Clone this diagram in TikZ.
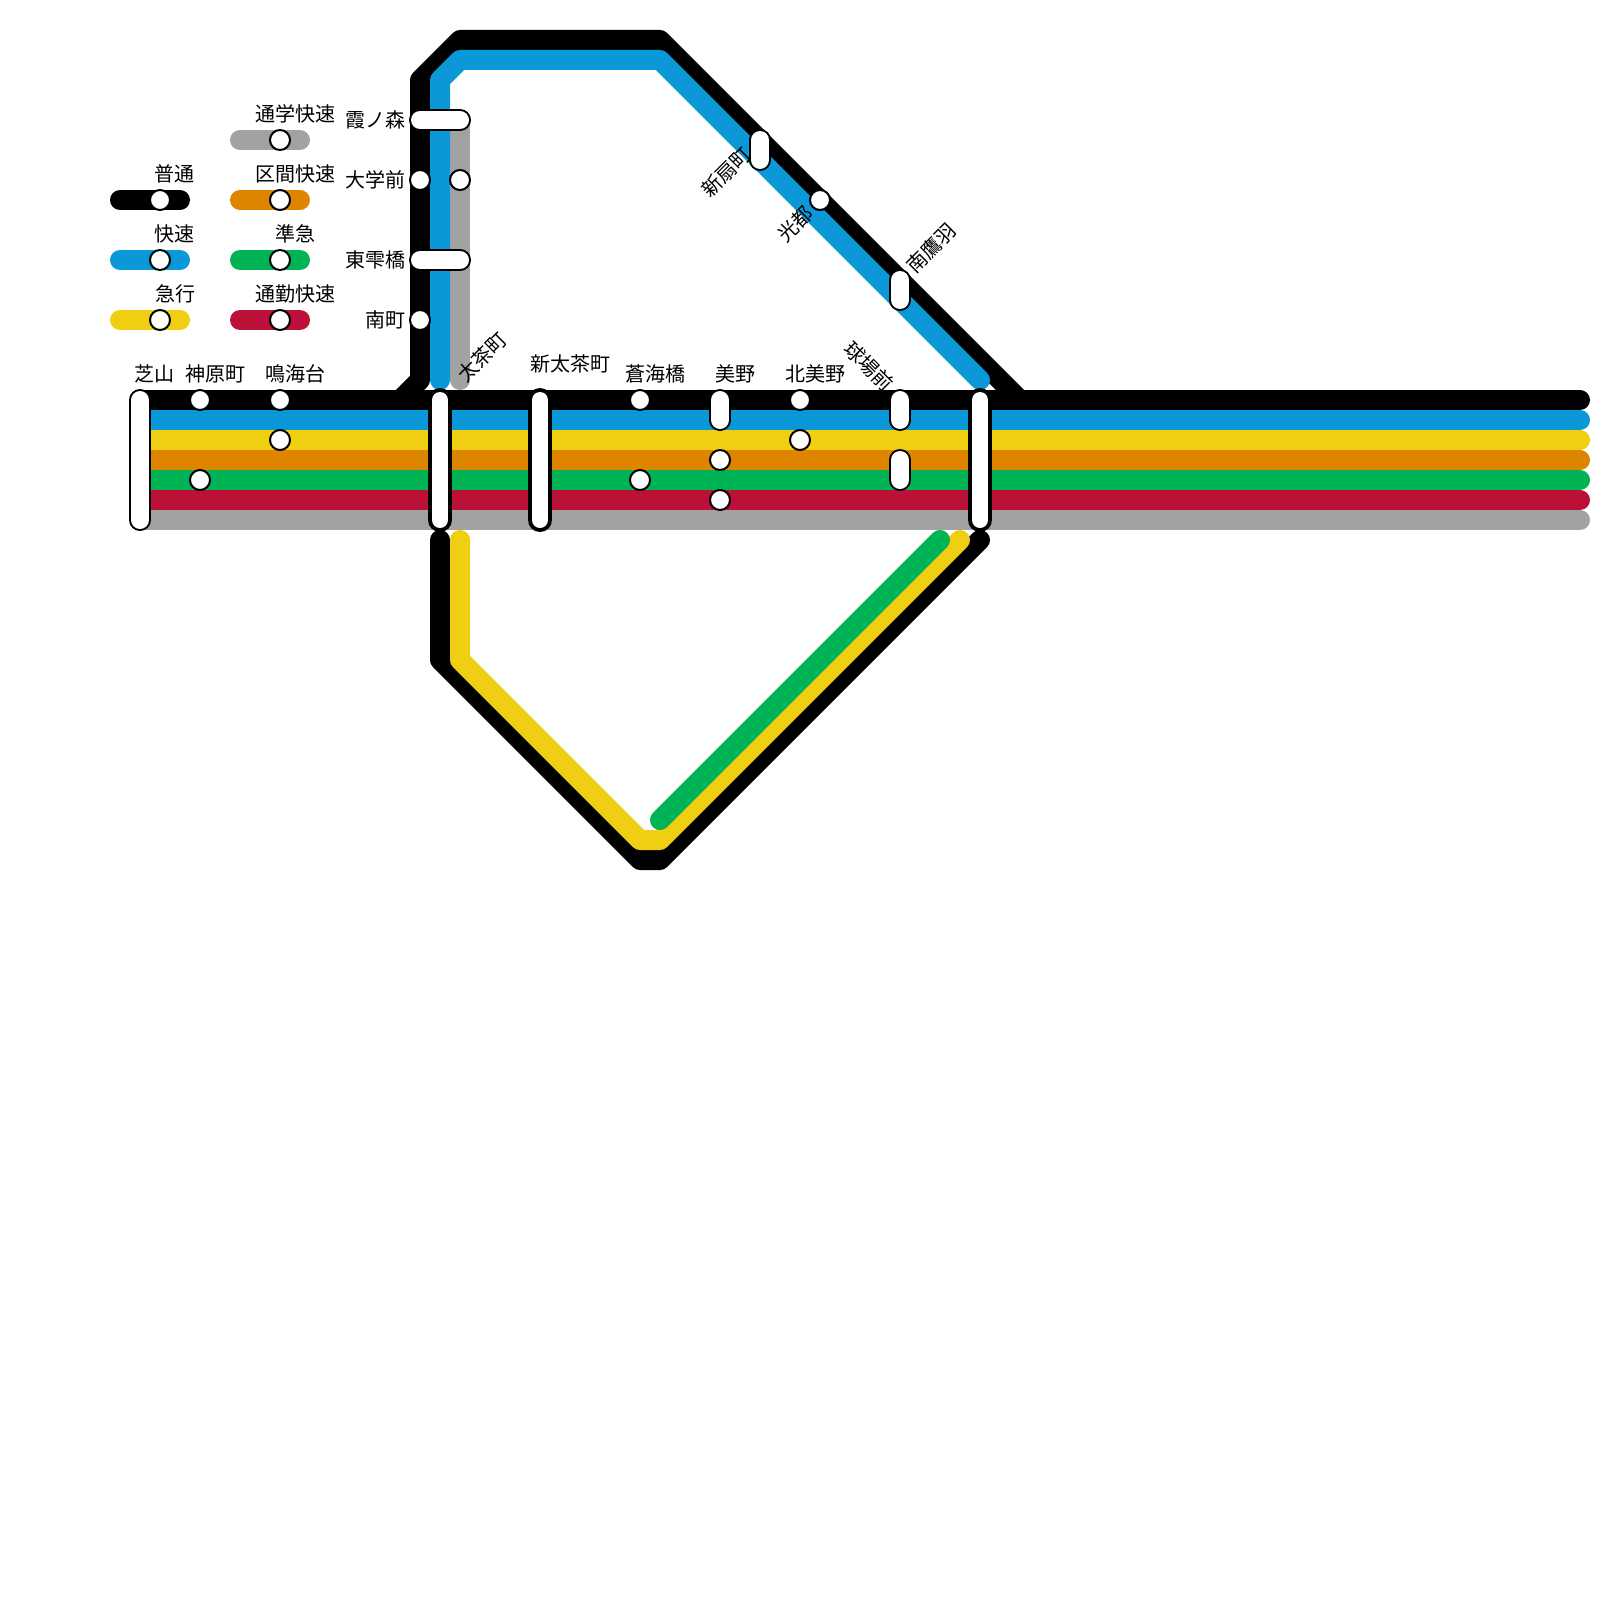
\documentclass[tikz,border=0pt]{standalone}
\usepackage{fontspec}
\setmainfont{Noto Sans CJK JP}
\definecolor{cblue}{HTML}{0A98D8}
\definecolor{cyellow}{HTML}{F0CF12}
\definecolor{corange}{HTML}{DE8500}
\definecolor{cgreen}{HTML}{00B355}
\definecolor{ccrimson}{HTML}{BB1038}
\definecolor{cgray}{HTML}{A2A2A2}
\tikzset{
  route/.style={line width=20pt,line cap=round,line join=round,draw=#1},
  pillout/.style={draw=black,line width=22pt,line cap=round},
  pillin/.style={draw=white,line width=18pt,line cap=round},
  bigout/.style={draw=black,line width=24pt,line cap=round},
  bigin/.style={draw=white,line width=16pt,line cap=round},
  stndot/.style={circle,draw=black,fill=white,line width=2pt,inner sep=0pt,minimum size=20pt},
  lbl/.style={font=\fontsize{20}{24}\selectfont,text=black,inner sep=0pt},
}
\newcommand{\pillstn}[4]{\draw[pillout] (#1,#2)--(#3,#4);\draw[pillin] (#1,#2)--(#3,#4);}
\newcommand{\bigstn}[4]{\draw[bigout] (#1,#2)--(#3,#4);\draw[bigin] (#1,#2)--(#3,#4);}
\begin{document}
\begin{tikzpicture}[x=1pt,y=-1pt]
\useasboundingbox[fill=white] (0,0) rectangle (1600,1600);
% branch lines
\draw[route=black] (400,400)--(420,380)--(420,80)--(460,40)--(660,40)--(1020,400);
\draw[route=cgray] (460,120)--(460,380);
\draw[route=cblue] (440,380)--(440,80)--(460,60)--(660,60)--(980,380);
\draw[route=black] (440,540)--(440,660)--(640,860)--(660,860)--(980,540);
\draw[route=cyellow] (460,540)--(460,660)--(640,840)--(660,840)--(960,540);
\draw[route=cgreen] (660,820)--(940,540);
% trunk
\draw[route=cgray] (140,520)--(1580,520);
\draw[route=ccrimson] (140,500)--(1580,500);
\draw[route=cgreen] (140,480)--(1580,480);
\draw[route=corange] (140,460)--(1580,460);
\draw[route=cyellow] (140,440)--(1580,440);
\draw[route=cblue] (140,420)--(1580,420);
\draw[route=black] (140,400)--(1580,400);
% legend
\draw[route=black] (120,200)--(180,200);
\draw[route=cblue] (120,260)--(180,260);
\draw[route=cyellow] (120,320)--(180,320);
\draw[route=cgray] (240,140)--(300,140);
\draw[route=corange] (240,200)--(300,200);
\draw[route=cgreen] (240,260)--(300,260);
\draw[route=ccrimson] (240,320)--(300,320);
\node[stndot] (lg1) at (160,200) {};
\node[stndot] (lg2) at (160,260) {};
\node[stndot] (lg3) at (160,320) {};
\node[stndot] (lg4) at (280,140) {};
\node[stndot] (lg5) at (280,200) {};
\node[stndot] (lg6) at (280,260) {};
\node[stndot] (lg7) at (280,320) {};
\node[lbl] (t1) at (174.5,174) {普通};
\node[lbl] (t2) at (174.5,234) {快速};
\node[lbl] (t3) at (175,294) {急行};
\node[lbl] (t4) at (295,114) {通学快速};
\node[lbl] (t5) at (295,174) {区間快速};
\node[lbl] (t6) at (295,234) {準急};
\node[lbl] (t7) at (295,294) {通勤快速};
% stations on the branch
\pillstn{420}{120}{460}{120}
\pillstn{420}{260}{460}{260}
\node[stndot] (s1) at (420,180) {};
\node[stndot] (s2) at (460,180) {};
\node[stndot] (s3) at (420,320) {};
\pillstn{760}{140}{760}{160}
\node[stndot] (s4) at (820,200) {};
\pillstn{900}{280}{900}{300}
% stations on the trunk
\pillstn{140}{400}{140}{520}
\node[stndot] (s5) at (200,400) {};
\node[stndot] (s6) at (200,480) {};
\node[stndot] (s7) at (280,400) {};
\node[stndot] (s8) at (280,440) {};
\bigstn{440}{400}{440}{520}
\bigstn{540}{400}{540}{520}
\node[stndot] (s9) at (640,400) {};
\node[stndot] (s10) at (640,480) {};
\pillstn{720}{400}{720}{420}
\node[stndot] (s11) at (720,460) {};
\node[stndot] (s12) at (720,500) {};
\node[stndot] (s13) at (800,400) {};
\node[stndot] (s14) at (800,440) {};
\pillstn{900}{400}{900}{420}
\pillstn{900}{460}{900}{480}
\bigstn{980}{400}{980}{520}
% station names
\node[lbl,anchor=east] (n1) at (405.5,120) {霞ノ森};
\node[lbl,anchor=east] (n2) at (405.5,180) {大学前};
\node[lbl,anchor=east] (n3) at (405.5,260) {東雫橋};
\node[lbl,anchor=east] (n4) at (405.5,320) {南町};
\node[lbl] (n5) at (154.5,374) {芝山};
\node[lbl] (n6) at (215,374) {神原町};
\node[lbl] (n7) at (295,374) {鳴海台};
\node[lbl,rotate=45] (n8) at (482,357) {太茶町};
\node[lbl] (n9) at (570,364) {新太茶町};
\node[lbl] (n10) at (655,374) {蒼海橋};
\node[lbl] (n11) at (735,374) {美野};
\node[lbl] (n12) at (815,374) {北美野};
\node[lbl,rotate=-45] (n13) at (869,366) {球場前};
\node[lbl,rotate=45] (n14) at (726,172) {新扇町};
\node[lbl,rotate=45] (n15) at (795,224) {光都};
\node[lbl,rotate=45] (n16) at (931,248) {南鷹羽};
\end{tikzpicture}
\end{document}
